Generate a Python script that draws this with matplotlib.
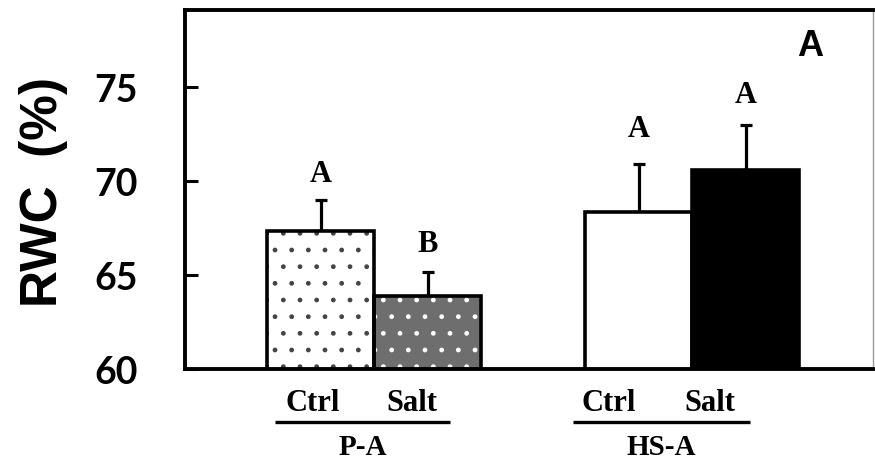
import matplotlib.pyplot as plt
from matplotlib.transforms import blended_transform_factory

# data
groups = ["P-A", "HS-A"]
treatments = ["Ctrl", "Salt", "Ctrl", "Salt"]
rwc = [67.35, 63.9, 68.35, 70.55]
rwc_err = [1.65, 1.25, 2.55, 2.4]
letters = ["A", "B", "A", "A"]

x_pos = [0, 1, 2.97, 3.97]

fig = plt.figure(figsize=(8.75, 4.64), dpi=100)
ax = fig.add_axes([185/875, 1-370/464, (873-185)/875, (370-11)/464])

serif = ["Liberation Serif", "DejaVu Serif"]
sans = ["Liberation Sans", "DejaVu Sans"]
width = 1.0
lw_edge = 2.6

# P-A Ctrl: white with dark dots
ax.bar(x_pos[0], rwc[0], width, color="white", edgecolor="#444444",
       hatch=".", linewidth=0, zorder=2)
# P-A Salt: gray texture with white dots
ax.bar(x_pos[1], rwc[1], width, color="#6e6e6e", linewidth=0, zorder=2)
ax.bar(x_pos[1], rwc[1], width, fill=False, edgecolor="white", hatch=".",
       linewidth=0, zorder=2)
# HS-A Ctrl: plain white, Salt: black
ax.bar(x_pos[2], rwc[2], width, color="white", linewidth=0, zorder=2)
ax.bar(x_pos[3], rwc[3], width, color="black", linewidth=0, zorder=2)
# outlines
ax.bar(x_pos, rwc, width, fill=False, edgecolor="black", linewidth=lw_edge, zorder=3)

ax.errorbar(x_pos, rwc, yerr=[[0]*4, rwc_err], fmt="none", ecolor="black",
            elinewidth=2.3, capsize=4.5, capthick=2.3, zorder=1)

# gap between error cap and letter, in points
letter_gap = [8, 10, 15, 12]
for x, y, e, s, g in zip(x_pos, rwc, rwc_err, letters, letter_gap):
    ax.annotate(s, (x, y + e), xytext=(0, g), textcoords="offset points",
                ha="center", va="bottom", fontsize=22, fontweight="bold",
                family=serif, color="black")

ax.set_xlim(-1.27, 5.16)
ax.set_ylim(60, 79.07)
ax.set_yticks([60, 65, 70, 75])
ax.set_xticks([])
ax.tick_params(axis="y", direction="in", length=9, width=2.2, pad=34,
               labelsize=27)
for t in ax.get_yticklabels():
    t.set_family(["Lato", "DejaVu Sans"])
    t.set_fontweight("bold")

for side in ["left", "bottom", "top"]:
    ax.spines[side].set_linewidth(2.8)
ax.spines["right"].set_linewidth(1.0)
ax.spines["right"].set_color("#999999")

# panel letter
ax.text(0.908, 0.9, "A", transform=ax.transAxes, ha="center", va="center",
        fontsize=26, fontweight="bold", family=sans)

# category labels under the axis
trans = blended_transform_factory(ax.transData, ax.transAxes)
label_dx = [-0.08, -0.15, -0.28, -0.33]
for x, dx, lab in zip(x_pos, label_dx, treatments):
    ax.text(x + dx, -0.092, lab, transform=trans, ha="center", va="center",
            fontsize=22, fontweight="bold", family=serif, clip_on=False)

group_span = [(-0.43, 1.21), (2.36, 4.01)]
for (a, b), g in zip(group_span, groups):
    ax.plot([a, b], [-0.148, -0.148], transform=trans, color="black",
            linewidth=2.4, clip_on=False, solid_capstyle="butt")
    ax.text((a + b) / 2, -0.215, g, transform=trans, ha="center", va="center",
            fontsize=21, fontweight="bold", family=serif, clip_on=False)

fig.text(43/875, 1-192/464, "RWC  (%)", rotation=90, ha="center", va="center",
         fontsize=37, fontweight="bold", family=sans)

fig.savefig("out.png", dpi=100)
